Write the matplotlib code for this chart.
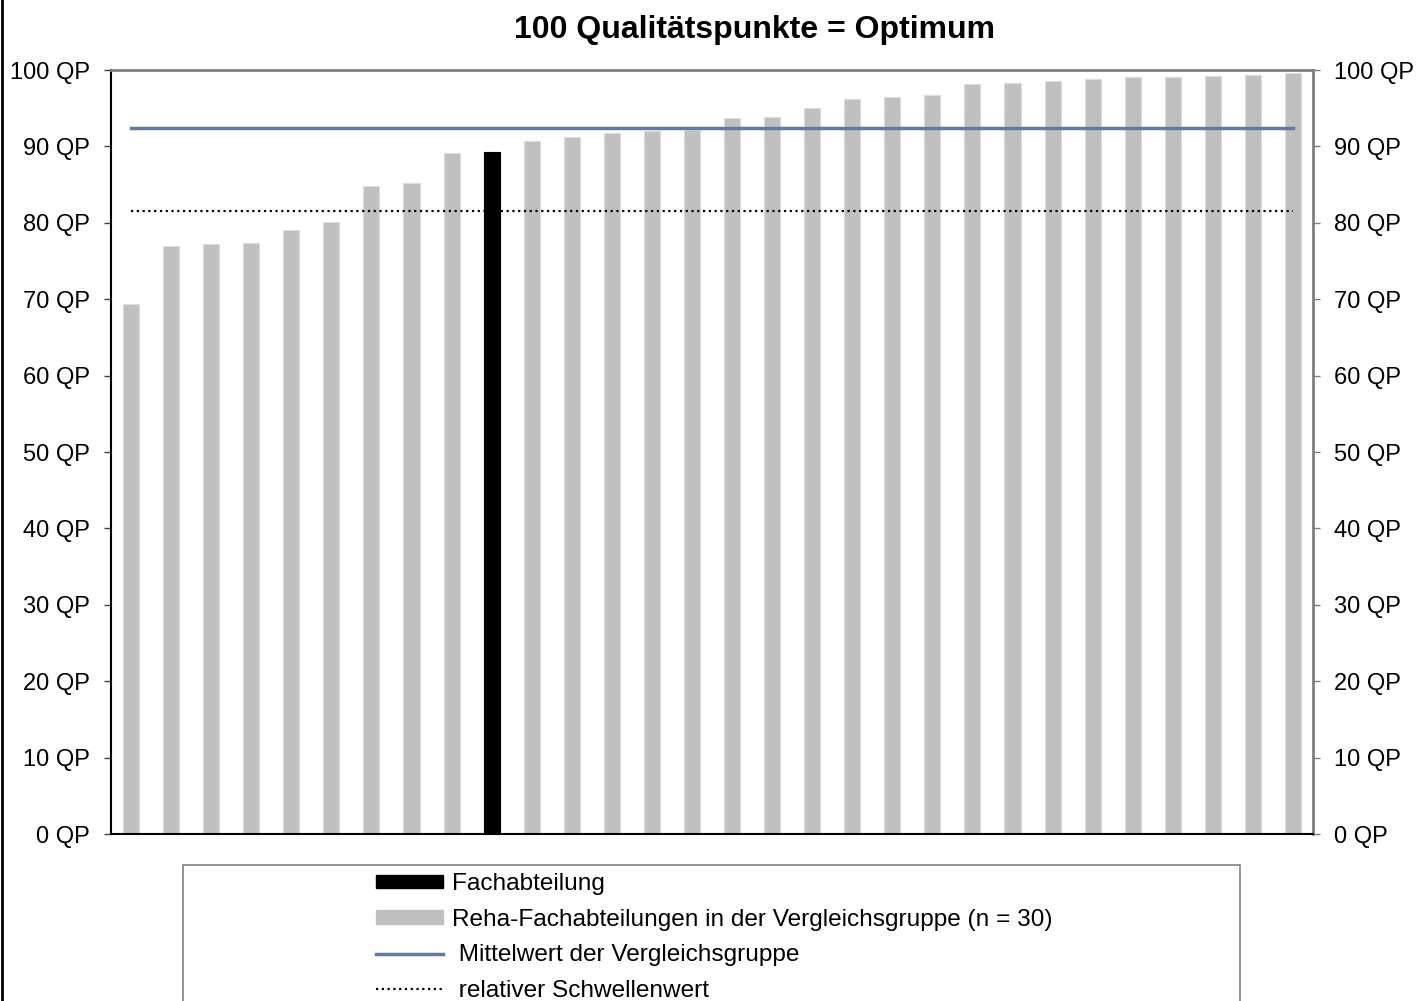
import matplotlib
matplotlib.use("Agg")
import matplotlib.pyplot as plt
import numpy as np
from matplotlib.patches import Patch, Rectangle
from matplotlib.lines import Line2D

plt.rcParams["font.family"] = ["Liberation Sans", "DejaVu Sans"]

# ---------------------------------------------------------------------------
# Data
# ---------------------------------------------------------------------------
scores = [69.4, 77.0, 77.2, 77.4, 79.1, 80.1, 84.8, 85.2, 89.2, 89.3,
          90.7, 91.2, 91.8, 92.0, 92.2, 93.7, 93.8, 95.0, 96.2, 96.5,
          96.7, 98.2, 98.3, 98.6, 98.8, 99.1, 99.1, 99.2, 99.3, 99.6]
own_index = 9              # the Fachabteilung (black bar)
group_mean = 92.4
threshold = 81.5
yticks = list(range(0, 101, 10))
ytick_labels = [f"{v} QP" for v in yticks]
title = "100 Qualitätspunkte = Optimum"
legend_labels = ["Fachabteilung",
                 "Reha-Fachabteilungen in der Vergleichsgruppe (n = 30)",
                 " Mittelwert der Vergleichsgruppe",
                 " relativer Schwellenwert"]

GRAY = "#c0c0c0"
MEAN_COL = "#647b9b"
FS = 17
LEG_FS = 17.6

fig = plt.figure(figsize=(14.16, 10.01), dpi=100)
ax = fig.add_axes([111 / 1416, 1 - 834 / 1001, (1313 - 111) / 1416, (834 - 70) / 1001])

x = np.arange(len(scores))
colors = ["black" if i == own_index else GRAY for i in x]
edges = ["black" if i == own_index else "#dcdcdc" for i in x]
ax.bar(x, scores, width=0.4, color=colors, edgecolor=edges, linewidth=0.8, zorder=2)
ax.plot([x[0], x[-1]], [group_mean, group_mean], color=MEAN_COL, linewidth=2.5, zorder=3)
ax.plot([x[0], x[-1]], [threshold, threshold], color="black", linewidth=1.6,
        linestyle=(0, (1, 1.6)), zorder=3)

ax.set_xlim(-0.5, len(scores) - 0.5)
ax.set_ylim(0, 100)
ax.set_xticks([])
ax.set_yticks(yticks)
ax.set_yticklabels(ytick_labels, fontsize=FS)
ax.tick_params(axis="y", direction="out", length=5, width=1, color="#404040", pad=10)

ax.spines["left"].set_color("black")
ax.spines["left"].set_linewidth(1.5)
ax.spines["bottom"].set_color("black")
ax.spines["bottom"].set_linewidth(1.5)
ax.spines["top"].set_color("#808080")
ax.spines["top"].set_linewidth(2)
ax.spines["right"].set_color("#808080")
ax.spines["right"].set_linewidth(2)

ax2 = ax.twinx()
ax2.set_ylim(0, 100)
ax2.set_yticks(yticks)
ax2.set_yticklabels(ytick_labels, fontsize=FS)
ax2.tick_params(axis="y", direction="out", length=5, width=1, color="#808080", pad=10)
for s in ax2.spines.values():
    s.set_visible(False)

fig.text(755 / 1416, 1 - 30 / 1001, title, fontsize=23, fontweight="bold",
         ha="center", va="center")

# legend box (runs off the bottom of the figure)
fig.patches.append(Rectangle((183 / 1416, -0.05), (1240 - 183) / 1416, 0.05 + 1 - 865 / 1001,
                             transform=fig.transFigure, facecolor="white",
                             edgecolor="#808080", linewidth=1.2))
handles = [Patch(facecolor="black", edgecolor="black"),
           Patch(facecolor=GRAY, edgecolor=GRAY),
           Line2D([], [], color=MEAN_COL, linewidth=2.5),
           Line2D([], [], color="black", linewidth=1.6, linestyle=(0, (1, 1.6)))]
fig.legend(handles, legend_labels, loc="upper left",
           bbox_to_anchor=(376 / 1416, 1 - 873 / 1001), frameon=False,
           fontsize=LEG_FS, handlelength=2.75, handleheight=0.45, handletextpad=0.35,
           labelspacing=0.56, borderpad=0, borderaxespad=0)

# left frame edge
fig.add_artist(Line2D([0.0012, 0.0012], [0, 1], transform=fig.transFigure,
                      color="black", linewidth=2))

fig.savefig("out.png", dpi=100)
